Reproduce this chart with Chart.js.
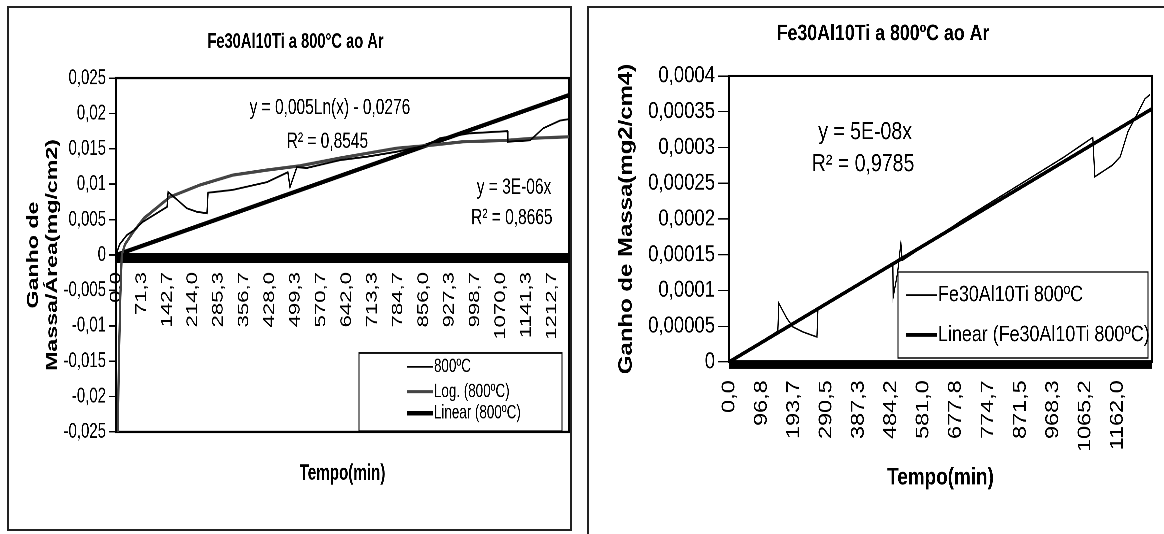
<!DOCTYPE html>
<html>
<head>
<meta charset="utf-8">
<script src="https://cdn.jsdelivr.net/npm/chart.js@4.4.1/dist/chart.umd.min.js"></script>
<style>
  html, body { margin: 0; padding: 0; background: #fff; }
  body { width: 1164px; height: 534px; position: relative; overflow: hidden; }
  canvas { position: absolute; }
  .frame { position: absolute; border: 2px solid #222; box-sizing: border-box; pointer-events: none; }
</style>
</head>
<body>
<!-- the scanned charts are stretched vertically, so each canvas is drawn short and shown tall -->
<canvas id="left" width="563" height="361" style="left:8px; top:7px; width:563px; height:523px;"></canvas>
<canvas id="right" width="575" height="421" style="left:589px; top:8px; width:575px; height:526px;"></canvas>
<div class="frame" style="left:7px; top:6px; width:565px; height:525px;"></div>
<div class="frame" style="left:587px; top:6px; width:620px; height:560px;"></div>

<script>
// ---- left chart: mass gain per area ----
const timeL = [0, 10, 30, 50, 75, 142, 145, 170, 197, 225, 253, 256, 325, 420, 478, 484, 503, 531, 623, 700, 782, 865, 901, 985, 1088, 1090, 1152, 1188, 1235, 1260];
const gainL = [0, 0.0015, 0.0028, 0.0035, 0.0047, 0.0068, 0.0089, 0.0078, 0.0066, 0.0061, 0.0059, 0.0088, 0.0092, 0.0103, 0.0117, 0.0096, 0.0124, 0.0123, 0.0134, 0.0139, 0.0146, 0.0155, 0.0165, 0.0172, 0.0175, 0.0160, 0.0162, 0.0179, 0.0190, 0.0192];
const logTimeL = [5, 8, 12, 16, 25, 47, 78, 150, 234, 325, 420, 512, 623, 782, 873, 965, 1088, 1160, 1260];
const logGainL = [-0.025, -0.015, -0.006, 0, 0.0015, 0.0032, 0.0052, 0.0082, 0.0099, 0.0113, 0.0120, 0.0126, 0.0137, 0.0151, 0.0155, 0.0160, 0.0162, 0.0165, 0.0167];
const linTimeL = [0, 1260];
const linGainL = [0, 0.0226];
const xTicksL = ['0,0', '71,3', '142,7', '214,0', '285,3', '356,7', '428,0', '499,3', '570,7', '642,0', '713,3', '784,7', '856,0', '927,3', '998,7', '1070,0', '1141,3', '1212,7'];
const yTicksL = ['-0,025', '-0,02', '-0,015', '-0,01', '-0,005', '0', '0,005', '0,01', '0,015', '0,02', '0,025'];

// ---- right chart: squared mass gain ----
const timeR = [0, 146, 149, 173, 191, 221, 245, 263, 266, 490, 491, 504, 514, 518, 700, 900, 1000, 1088, 1094, 1110, 1146, 1170, 1193, 1221, 1244, 1259];
const gainR = [0, 0.000043, 0.000082, 0.000061, 0.000049, 0.000042, 0.000038, 0.000035, 0.000075, 0.000138, 0.000091, 0.000124, 0.000166, 0.000142, 0.000199, 0.000257, 0.000286, 0.000314, 0.000259, 0.000264, 0.000275, 0.000287, 0.000322, 0.000347, 0.000368, 0.000374];
const linTimeR = [0, 1265];
const linGainR = [0, 0.000354];
const xTicksR = ['0,0', '96,8', '193,7', '290,5', '387,3', '484,2', '581,0', '677,8', '774,7', '871,5', '968,3', '1065,2', '1162,0'];
const yTicksR = ['0', '0,00005', '0,0001', '0,00015', '0,0002', '0,00025', '0,0003', '0,00035', '0,0004'];

const FONT = "'Liberation Sans', Arial, sans-serif";
Chart.defaults.font.family = FONT;
Chart.defaults.color = '#000';

const num = s => parseFloat(s.replace(',', '.'));
const pts = (xs, ys) => xs.map((x, i) => ({ x: x, y: ys[i] }));

// black frame round the plot area + the heavy category axis line at y = 0
const frame = {
    id: 'frame',
    beforeDatasetsDraw(chart) {
        const { ctx, chartArea: a, scales } = chart;
        const y0 = scales.y.getPixelForValue(0);
        ctx.save();
        ctx.strokeStyle = '#000';
        ctx.lineWidth = 1.5;
        ctx.strokeRect(a.left, a.top, a.right - a.left, a.bottom - a.top);
        ctx.fillStyle = '#000';
        ctx.fillRect(a.left, y0 - 1.5, a.right - a.left, 7);
        ctx.restore();
    }
};

// Excel style legend: white box with border, drawn inside the plot
function boxLegend(cfg) {
    return {
        id: 'boxLegend',
        afterDatasetsDraw(chart) {
            const ctx = chart.ctx;
            ctx.save();
            ctx.fillStyle = '#fff';
            ctx.fillRect(cfg.left, cfg.top, cfg.right - cfg.left, cfg.bottom - cfg.top);
            ctx.strokeStyle = '#000';
            ctx.lineWidth = 1;
            ctx.strokeRect(cfg.left, cfg.top, cfg.right - cfg.left, cfg.bottom - cfg.top);
            ctx.font = cfg.size + 'px ' + FONT;
            ctx.textBaseline = 'middle';
            chart.data.datasets.forEach((ds, i) => {
                const y = cfg.rows[i];
                ctx.strokeStyle = ds.borderColor;
                ctx.lineWidth = ds.borderWidth;
                ctx.beginPath();
                ctx.moveTo(cfg.x0, y);
                ctx.lineTo(cfg.x1, y);
                ctx.stroke();
                ctx.fillStyle = '#000';
                ctx.fillText(ds.label, cfg.x1 + 1, y);
            });
            ctx.restore();
        }
    };
}

// trendline equations, anchored in data units
function notes(size, items) {
    return {
        id: 'notes',
        afterDatasetsDraw(chart) {
            const { ctx, scales } = chart;
            ctx.save();
            ctx.font = size + 'px ' + FONT;
            ctx.textAlign = 'center';
            ctx.textBaseline = 'middle';
            ctx.fillStyle = '#000';
            items.forEach(n => {
                ctx.fillText(n.text, scales.x.getPixelForValue(n.at[0]), scales.y.getPixelForValue(n.at[1]));
            });
            ctx.restore();
        }
    };
}

function makeChart(id, s) {
    const xVals = s.xTicks.map(num);
    const yVals = s.yTicks.map(num);
    return new Chart(document.getElementById(id), {
        type: 'line',
        data: { datasets: s.datasets },
        options: {
            responsive: false,
            animation: false,
            devicePixelRatio: 3,
            layout: { padding: s.padding },
            elements: { point: { radius: 0 }, line: { tension: 0 } },
            plugins: {
                legend: { display: false },
                tooltip: { enabled: false },
                title: {
                    display: true,
                    text: s.title,
                    color: '#000',
                    font: { size: s.titleSize, weight: 'bold' },
                    padding: s.titlePad
                }
            },
            scales: {
                x: {
                    type: 'linear',
                    axis: 'x',
                    // labels hang just under the thick zero line
                    position: { y: s.labelsAt },
                    min: 0,
                    max: s.xMax,
                    afterBuildTicks: sc => { sc.ticks = xVals.map(v => ({ value: v })); },
                    ticks: {
                        autoSkip: false,
                        minRotation: 90,
                        maxRotation: 90,
                        padding: 0,
                        font: { size: s.xTickSize },
                        callback: (v, i) => s.xTicks[i]
                    },
                    grid: { display: false, drawTicks: false },
                    border: { display: false }
                },
                x2: {
                    type: 'linear',
                    axis: 'x',
                    position: 'bottom',
                    min: 0,
                    max: 1,
                    afterFit: sc => { sc.height = s.bottomHeight; },
                    ticks: { display: false },
                    grid: { display: false, drawTicks: false },
                    border: { display: false },
                    title: {
                        display: true,
                        text: 'Tempo(min)',
                        color: '#000',
                        font: { size: s.xTitleSize, weight: 'bold' },
                        padding: { top: 0, bottom: s.xTitlePad }
                    }
                },
                y: {
                    type: 'linear',
                    position: 'left',
                    min: yVals[0],
                    max: yVals[yVals.length - 1],
                    afterFit: sc => { sc.width = s.yWidth; },
                    afterBuildTicks: sc => { sc.ticks = yVals.map(v => ({ value: v })); },
                    ticks: {
                        autoSkip: false,
                        padding: 3,
                        font: { size: s.yTickSize },
                        callback: (v, i) => s.yTicks[i]
                    },
                    grid: { display: true, drawOnChartArea: false, drawTicks: true, tickLength: s.tickLen, color: '#000', lineWidth: 1 },
                    border: { display: true, color: '#000', width: 1.5 },
                    title: {
                        display: true,
                        text: s.yTitle,
                        color: '#000',
                        font: { size: s.yTitleSize, weight: 'bold' },
                        padding: { top: s.yTitlePad, bottom: 0 }
                    }
                }
            }
        },
        plugins: [frame, boxLegend(s.legend), notes(s.noteSize, s.notes)]
    });
}

makeChart('left', {
    title: 'Fe30Al10Ti a 800°C ao Ar',
    titleSize: 14.7,
    titlePad: { top: 15.4, bottom: 16 },
    padding: { left: 14, right: 2, top: 0, bottom: 0 },
    xMax: 1260,
    xTicks: xTicksL,
    xTickSize: 15.3,
    labelsAt: -0.0024,
    xTitleSize: 15.2,
    xTitlePad: 29.6,
    bottomHeight: 67.7,
    yTicks: yTicksL,
    yTickSize: 15,
    yWidth: 94,
    tickLen: 7,
    yTitle: ['Ganho de', 'Massa/Área(mg/cm2)'],
    yTitleSize: 16,
    yTitlePad: 1.9,
    datasets: [
        { label: '800ºC', data: pts(timeL, gainL), borderColor: '#000', borderWidth: 1.3, xAxisID: 'x', yAxisID: 'y' },
        { label: 'Log. (800ºC)', data: pts(logTimeL, logGainL), borderColor: '#444', borderWidth: 2.2, xAxisID: 'x', yAxisID: 'y' },
        { label: 'Linear (800ºC)', data: pts(linTimeL, linGainL), borderColor: '#000', borderWidth: 3, xAxisID: 'x', yAxisID: 'y' }
    ],
    legend: { left: 351, top: 238.8, right: 554, bottom: 292.7, rows: [248.3, 265.5, 280.4], x0: 399, x1: 425, size: 13.4 },
    noteSize: 15.5,
    notes: [
        { text: 'y = 0,005Ln(x) - 0,0276', at: [595, 0.0208] },
        { text: 'R² = 0,8545', at: [588, 0.0160] },
        { text: 'y = 3E-06x', at: [1107, 0.0095] },
        { text: 'R² = 0,8665', at: [1101, 0.0052] }
    ]
});

makeChart('right', {
    title: 'Fe30Al10Ti a 800ºC ao Ar',
    titleSize: 17.8,
    titlePad: { top: 10.1, bottom: 22.9 },
    padding: { left: 25, right: 12, top: 0, bottom: 0 },
    xMax: 1265,
    xTicks: xTicksR,
    xTickSize: 18.8,
    labelsAt: -0.0000256,
    xTitleSize: 18.9,
    xTitlePad: 33.5,
    bottomHeight: 137.7,
    yTicks: yTicksR,
    yTickSize: 18.5,
    yWidth: 115,
    tickLen: 11,
    yTitle: 'Ganho de Massa(mg2/cm4)',
    yTitleSize: 19.2,
    yTitlePad: 1,
    datasets: [
        { label: 'Fe30Al10Ti 800ºC', data: pts(timeR, gainR), borderColor: '#000', borderWidth: 1.2, xAxisID: 'x', yAxisID: 'y' },
        { label: 'Linear (Fe30Al10Ti 800ºC)', data: pts(linTimeR, linGainR), borderColor: '#000', borderWidth: 3, xAxisID: 'x', yAxisID: 'y' }
    ],
    legend: { left: 309, top: 211.3, right: 559, bottom: 280.1, rows: [229.7, 261.7], x0: 317, x1: 348, size: 17.9 },
    noteSize: 19.5,
    notes: [
        { text: 'y = 5E-08x', at: [407, 0.000321] },
        { text: 'R² = 0,9785', at: [401, 0.000276] }
    ]
});
</script>
</body>
</html>
